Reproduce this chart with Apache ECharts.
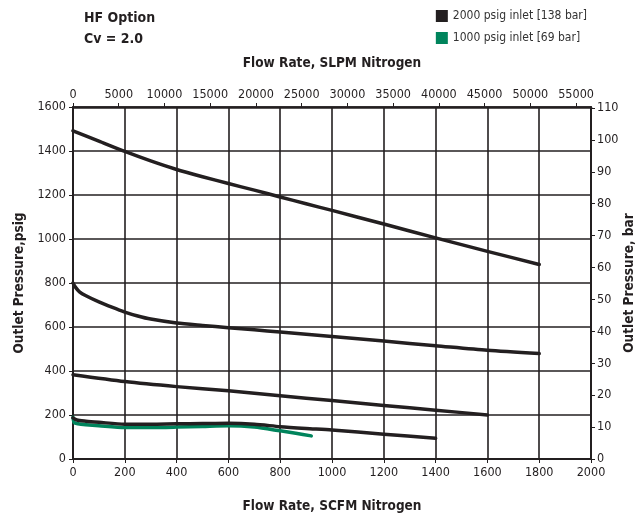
<!DOCTYPE html>
<html>
<head>
<meta charset="utf-8">
<script src="https://cdn.jsdelivr.net/npm/echarts@6/dist/echarts.min.js"></script>
<style>html,body{margin:0;padding:0;background:#fff}#c{width:639px;height:514px}</style>
</head>
<body>
<div id="c"></div>
<script>
// ---- data ----
const scfmTicks = [0,200,400,600,800,1000,1200,1400,1600,1800,2000];
const slpmTicks = [0,5000,10000,15000,20000,25000,30000,35000,40000,45000,50000,55000];
const psigTicks = [0,200,400,600,800,1000,1200,1400,1600];
const barTicks = [0,10,20,30,40,50,60,70,80,90,100,110];

const flowA = [0,100,200,300,400,500,600,700,800,900,1000,1200,1400,1600,1800];
const presA = [1492,1445,1398,1355,1316,1283,1252,1222,1191,1160,1130,1068,1005,944,884];

const flowB = [0,10,25,50,100,150,200,250,300,400,500,600,700,800,1000,1200,1400,1600,1800];
const presB = [800,780,760,742,714,690,668,650,636,618,607,597,587,577,557,536,515,494,479];

const flowC = [0,200,400,600,800,1000,1200,1400,1600];
const presC = [383,352,329,310,287,266,243,222,200];

const flowD = [0,15,50,100,200,300,400,500,600,700,800,900,1000,1200,1400];
const presD = [187,177,172,167,158,158,160,161,162,158,147,139,132,113,94];

const flowG = [0,5,20,50,100,200,300,400,500,600,700,800,860,920];
const presG = [190,165,160,156,151,143,143,145,148,151,145,128,117,105];

const name2000 = '2000 psig inlet [138 bar]';
const name1000 = '1000 psig inlet [69 bar]';

// ---- conversions ----
const SLPM_PER_SCFM = 28.3168;
const PSI_PER_BAR = 14.5038;
const xMax = 2000, yMax = 1600;

const FONT = '"Liberation Sans Narrow","DejaVu Sans Condensed","Roboto Condensed","Arial Narrow",sans-serif';
const INK = '#231f20';
const GREEN = '#00845c';
const plain = v => String(Math.round(v));
const nameStyle = {fontFamily:FONT, fontWeight:'bold', fontSize:13.5, color:INK};

function pairs(xs, ys){ return xs.map((x,i)=>[x, ys[i]]); }
function line(name, xs, ys, color){
  return {
    name, type:'line', data: pairs(xs, ys), showSymbol:false, symbol:'none',
    smooth:0.25,
    lineStyle:{color, width:3.5, cap:'round', join:'round'}, itemStyle:{color},
    xAxisIndex:0, yAxisIndex:0, z:5
  };
}

const chart = echarts.init(document.getElementById('c'), null, {renderer:'canvas'});
chart.setOption({
  animation:false,
  backgroundColor:'#fff',
  textStyle:{fontFamily:FONT},
  title:{
    text:'HF Option\nCv = 2.0', left:79, top:3,
    textStyle:{fontFamily:FONT, fontWeight:'bold', fontSize:14, color:INK, lineHeight:21}
  },
  legend:{
    orient:'vertical', right:47, top:5, itemWidth:12, itemHeight:12, itemGap:10,
    icon:'rect',
    data:[name2000, name1000],
    textStyle:{fontFamily:FONT, fontSize:12, color:'#333'}
  },
  grid:{left:73, right:48, top:107, bottom:55, containLabel:false, outerBoundsMode:'none'},
  xAxis:[
    {
      type:'value', position:'bottom', min:0, max:xMax, interval:200,
      name:'Flow Rate, SCFM Nitrogen', nameLocation:'middle', nameGap:40, nameMoveOverlap:false,
      nameTextStyle:nameStyle,
      axisLine:{show:true, lineStyle:{color:INK, width:2}},
      axisTick:{show:true, length:4, inside:false, lineStyle:{color:INK, width:1}},
      axisLabel:{show:true, margin:7, fontFamily:FONT, fontSize:12.5, color:INK, customValues:scfmTicks, formatter:plain},
      splitLine:{show:true, lineStyle:{color:INK, width:1.6}}
    },
    {
      type:'value', position:'top', min:0, max:xMax*SLPM_PER_SCFM,
      name:'Flow Rate, SLPM Nitrogen', nameLocation:'middle', nameGap:37, nameMoveOverlap:false,
      nameTextStyle:nameStyle,
      axisLine:{show:true, onZero:false, lineStyle:{color:INK, width:2.5}},
      axisTick:{show:true, length:4, customValues:slpmTicks, lineStyle:{color:INK, width:1}},
      axisLabel:{show:true, margin:6, fontFamily:FONT, fontSize:12.5, color:INK, customValues:slpmTicks, formatter:plain},
      splitLine:{show:false}
    }
  ],
  yAxis:[
    {
      type:'value', position:'left', min:0, max:yMax, interval:200,
      name:'Outlet Pressure,psig', nameLocation:'middle', nameGap:47, nameRotate:90, nameMoveOverlap:false,
      nameTextStyle:nameStyle,
      axisLine:{show:true, lineStyle:{color:INK, width:2}},
      axisTick:{show:true, length:4, lineStyle:{color:INK, width:1}},
      axisLabel:{show:true, margin:7, fontFamily:FONT, fontSize:12.5, color:INK, customValues:psigTicks, formatter:plain},
      splitLine:{show:true, lineStyle:{color:INK, width:1.6}}
    },
    {
      type:'value', position:'right', min:0, max:yMax/PSI_PER_BAR,
      name:'Outlet Pressure, bar', nameLocation:'middle', nameGap:31, nameRotate:90, nameMoveOverlap:false,
      nameTextStyle:nameStyle,
      axisLine:{show:true, onZero:false, lineStyle:{color:INK, width:2}},
      axisTick:{show:true, length:4, customValues:barTicks, lineStyle:{color:INK, width:1}},
      axisLabel:{show:true, margin:6, fontFamily:FONT, fontSize:12.5, color:INK, customValues:barTicks, formatter:plain},
      splitLine:{show:false}
    }
  ],
  series:[
    line(name2000, flowA, presA, INK),
    line(name2000, flowB, presB, INK),
    line(name2000, flowC, presC, INK),
    line(name1000, flowG, presG, GREEN),
    line(name2000, flowD, presD, INK)
  ]
});
</script>
</body>
</html>
